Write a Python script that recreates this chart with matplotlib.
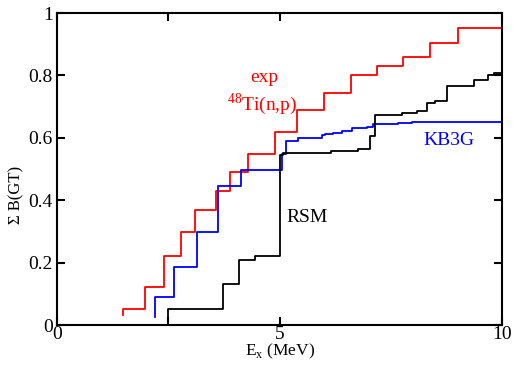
import matplotlib
matplotlib.use("Agg")
import matplotlib.pyplot as plt

plt.rcParams['font.family'] = ['Liberation Serif', 'DejaVu Serif']
plt.rcParams['mathtext.fontset'] = 'custom'
plt.rcParams['mathtext.rm'] = 'Liberation Serif'

# Experimental 48Ti(n,p) cumulative B(GT)
exp_x = [1.49, 1.49, 1.98, 2.40, 2.79, 3.11, 3.58, 3.89, 4.30, 4.91, 5.39, 6.00, 6.61, 7.18, 7.78, 8.38, 9.00, 10.0]
exp_y = [0.033, 0.05, 0.123, 0.220, 0.299, 0.370, 0.431, 0.490, 0.548, 0.620, 0.689, 0.743, 0.801, 0.830, 0.860, 0.903, 0.951, 0.951]

# KB3G shell model
kb3g_x = [2.20, 2.20, 2.64, 3.14, 3.62, 4.13, 5.05, 5.15, 5.42, 5.95, 6.02, 6.21, 6.40, 6.62, 6.96, 7.10, 7.67, 7.97, 10.0]
kb3g_y = [0.027, 0.091, 0.185, 0.299, 0.446, 0.497, 0.548, 0.590, 0.598, 0.609, 0.612, 0.614, 0.623, 0.630, 0.636, 0.643, 0.646, 0.651, 0.651]

# RSM
rsm_x = [2.49, 2.49, 3.72, 4.09, 4.45, 5.00, 5.07, 6.15, 6.77, 7.03, 7.15, 7.75, 8.08, 8.31, 8.49, 8.76, 9.36, 9.68, 9.81, 10.0]
rsm_y = [0.0, 0.050, 0.131, 0.208, 0.220, 0.545, 0.550, 0.559, 0.564, 0.605, 0.672, 0.681, 0.687, 0.711, 0.719, 0.765, 0.785, 0.800, 0.809, 0.809]

x_ticks = [0, 2.5, 5, 10]
x_ticklabels = ['0', '', '5', '10']
y_ticks = [0, 0.2, 0.4, 0.6, 0.8, 1.0]
y_ticklabels = ['0', '0.2', '0.4', '0.6', '0.8', '1']

W, H = 513, 369
fig = plt.figure(figsize=(W/100, H/100), dpi=100)
ax = fig.add_axes([57/W, 1-325/H, (502-57)/W, (325-13)/H])

ax.plot(exp_x, exp_y, drawstyle='steps-post', color='#ff0000', lw=1.3)
ax.plot(kb3g_x, kb3g_y, drawstyle='steps-post', color='#0000ff', lw=1.3)
ax.plot(rsm_x, rsm_y, drawstyle='steps-post', color='black', lw=1.3)

ax.set_xlim(0, 10)
ax.set_ylim(0, 1)
ax.set_xticks(x_ticks)
ax.set_xticklabels(x_ticklabels)
ax.set_yticks(y_ticks)
ax.set_yticklabels(y_ticklabels)
ax.tick_params(direction='in', length=6, width=1.5, top=True, right=True,
               labelsize=14, pad=3, color='black')
ax.tick_params(axis='x', pad=0.5)
for s in ax.spines.values():
    s.set_linewidth(1.5)

def px(x, y):
    return x / W, 1 - y / H

ax.text(*px(264, 77), 'exp', transform=fig.transFigure, color='#ff0000', fontsize=14,
        ha='center', va='center')
ax.text(*px(262, 104), r'$^{\mathregular{48}}$Ti(n,p)', transform=fig.transFigure, color='#ff0000',
        fontsize=14, ha='center', va='center')
ax.text(*px(307, 217), 'RSM', transform=fig.transFigure, color='black', fontsize=14,
        ha='center', va='center')
ax.text(*px(449, 140), 'KB3G', transform=fig.transFigure, color='#0000ff', fontsize=14,
        ha='center', va='center')

fig.text(*px(16, 195), 'Σ B(GT)', rotation=90, ha='center', va='center', fontsize=12)
fig.text(*px(280, 355), r'E$_{\mathregular{x}}$ (MeV)', ha='center', va='baseline', fontsize=12.5)

fig.savefig('out.png', dpi=100)
